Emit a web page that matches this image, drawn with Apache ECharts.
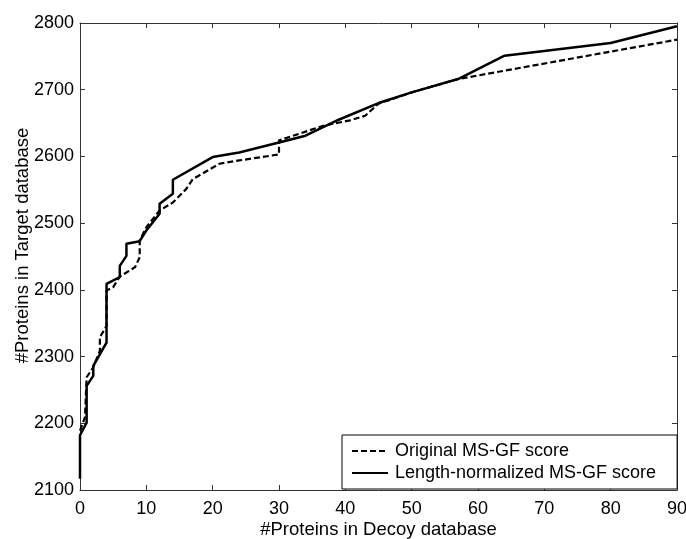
<!DOCTYPE html>
<html>
<head>
<meta charset="utf-8">
<script src="https://cdn.jsdelivr.net/npm/echarts@6/dist/echarts.min.js"></script>
<style>
  html, body { margin: 0; padding: 0; background: #fff; }
  #chart { width: 686px; height: 539px; }
</style>
</head>
<body>
<div id="chart"></div>
<script>
// Number of proteins found in the decoy database (x) vs. target database (y)
const origX = [0, 0.75, 1, 2, 3, 3, 4, 4, 5, 6, 8.3, 9, 9, 10, 12, 14, 16, 17, 21, 24, 30, 30, 36.7, 40.7, 43, 45, 50, 57, 90];
const origY = [2189, 2209, 2269, 2284, 2309, 2329, 2346, 2399, 2404, 2420, 2434, 2449, 2474, 2494, 2519, 2531, 2551, 2566, 2589, 2594, 2603, 2624, 2646, 2654, 2661, 2679, 2696, 2716, 2775];

const normX = [0, 0, 1, 1, 2, 2, 4, 4, 6, 6, 7, 7, 9, 10, 12, 12, 14, 14, 20, 24, 30, 34, 39, 45, 50, 57, 64, 80, 90];
const normY = [2117, 2182, 2201, 2256, 2271, 2286, 2321, 2409, 2419, 2436, 2451, 2469, 2473, 2489, 2514, 2529, 2544, 2565, 2599, 2606, 2621, 2631, 2655, 2680, 2696, 2716, 2751, 2770, 2795];

const seriesNames = ['Original MS-GF score', 'Length-normalized MS-GF score'];
const xTitle = '#Proteins in Decoy database';
const yTitle = '#Proteins in Target database';

const pairs = (xs, ys) => xs.map((x, i) => [x, ys[i]]);

const axisColor = '#333';
const font = 'Liberation Sans, Arial, sans-serif';
const fs = 18;
const titleFs = 18.5;

const chart = echarts.init(document.getElementById('chart'), null, { renderer: 'canvas' });

const baseX = {
  type: 'value', min: 0, max: 90, interval: 10,
  axisLine: { show: true, onZero: false, lineStyle: { color: axisColor, width: 1 } },
  axisTick: { show: true, inside: true, length: 5, lineStyle: { color: axisColor } },
  splitLine: { show: false }
};
const baseY = {
  type: 'value', min: 2100, max: 2800, interval: 100,
  axisLine: { show: true, onZero: false, lineStyle: { color: axisColor, width: 1 } },
  axisTick: { show: true, inside: true, length: 5, lineStyle: { color: axisColor } },
  splitLine: { show: false }
};

chart.setOption({
  animation: false,
  backgroundColor: '#fff',
  grid: { left: 80, right: 9, top: 23, bottom: 49, containLabel: false, outerBoundsMode: 'none' },
  xAxis: [
    Object.assign({}, baseX, {
      position: 'bottom',
      name: xTitle, nameLocation: 'middle', nameGap: 30, nameMoveOverlap: false,
      nameTextStyle: { fontFamily: font, fontSize: titleFs, color: '#000' },
      axisLabel: { show: true, margin: 10, fontFamily: font, fontSize: fs, color: '#000',
                   formatter: v => String(v) }
    }),
    Object.assign({}, baseX, { position: 'top', axisLabel: { show: false } })
  ],
  yAxis: [
    Object.assign({}, baseY, {
      position: 'left',
      name: yTitle, nameLocation: 'middle', nameGap: 48, nameMoveOverlap: false,
      nameTextStyle: { fontFamily: font, fontSize: titleFs, color: '#000', padding: [0, 0, 0, 22] },
      axisLabel: { show: true, margin: 6, fontFamily: font, fontSize: fs, color: '#000',
                   formatter: v => String(v) }
    }),
    Object.assign({}, baseY, { position: 'right', axisLabel: { show: false } })
  ],
  legend: {
    orient: 'vertical',
    left: 342, top: 435,
    padding: [7, 21, 7, 9],
    itemWidth: 36, itemHeight: 14, itemGap: 4,
    borderColor: '#000', borderWidth: 1, borderRadius: 0,
    backgroundColor: '#fff',
    itemStyle: { color: 'rgba(0,0,0,0)', borderColor: 'rgba(0,0,0,0)', borderWidth: 0 },
    textStyle: { fontFamily: font, fontSize: fs, color: '#000', padding: [0, 0, 0, 2] },
    data: seriesNames
  },
  series: [
    {
      name: seriesNames[0], type: 'line', xAxisIndex: 0, yAxisIndex: 0,
      data: pairs(origX, origY), showSymbol: false, symbol: 'none',
      lineStyle: { color: '#000', width: 2.2, type: [6, 3] },
      itemStyle: { color: '#000' }, z: 3
    },
    {
      name: seriesNames[1], type: 'line', xAxisIndex: 0, yAxisIndex: 0,
      data: pairs(normX, normY), showSymbol: false, symbol: 'none',
      lineStyle: { color: '#000', width: 2.5, type: 'solid' },
      itemStyle: { color: '#000' }, z: 4
    }
  ]
});
</script>
</body>
</html>
